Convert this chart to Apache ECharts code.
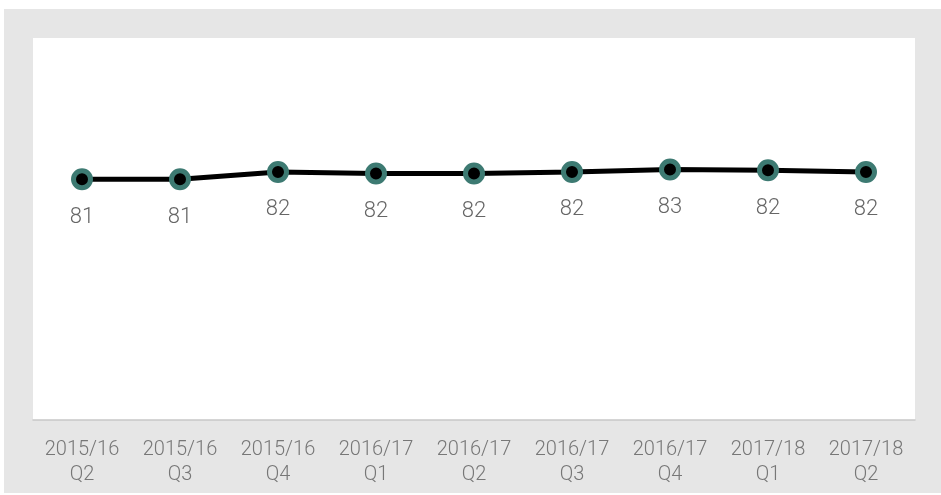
<!DOCTYPE html>
<html>
<head>
<meta charset="utf-8">
<script src="https://cdn.jsdelivr.net/npm/echarts@6/dist/echarts.min.js"></script>
<style>
html,body{margin:0;padding:0;background:#fff;}
#c{width:941px;height:495px;}
</style>
</head>
<body>
<div id="c"></div>
<script>
var categories = ["2015/16\nQ2","2015/16\nQ3","2015/16\nQ4","2016/17\nQ1","2016/17\nQ2","2016/17\nQ3","2016/17\nQ4","2017/18\nQ1","2017/18\nQ2"];
var values = [81.3, 81.3, 82.2, 82.0, 82.0, 82.2, 82.5, 82.4, 82.2];

var chart = echarts.init(document.getElementById('c'));
chart.setOption({
  animation: false,
  backgroundColor: '#ffffff',
  graphic: [{
    type: 'rect', z: -10, silent: true,
    shape: {x: 4, y: 9, width: 937, height: 484},
    style: {fill: '#e6e6e6'}
  }],
  grid: {left: 33, top: 38, right: 26, bottom: 75, show: true, backgroundColor: '#ffffff', borderWidth: 0},
  xAxis: {
    type: 'category',
    data: categories,
    boundaryGap: true,
    axisLine: {show: true, lineStyle: {color: '#c8c8c8', width: 1.5}},
    axisTick: {show: false},
    axisLabel: {color: '#777777', fontSize: 20, fontFamily: 'Roboto', fontWeight: 300, lineHeight: 25, margin: 17, interval: 0}
  },
  yAxis: {
    type: 'value', min: 52, max: 98.5,
    show: false,
    splitLine: {show: false}
  },
  series: [{
    type: 'line',
    data: values,
    symbol: 'circle',
    symbolSize: 17,
    lineStyle: {color: '#000000', width: 5},
    itemStyle: {color: '#000000', borderColor: '#3d7a72', borderWidth: 5},
    label: {
      show: true, position: 'bottom', distance: 16,
      color: '#666666', fontSize: 22, fontFamily: 'Roboto', fontWeight: 300,
      formatter: function (p) { return Math.round(p.value); }
    }
  }]
});
</script>
</body>
</html>
